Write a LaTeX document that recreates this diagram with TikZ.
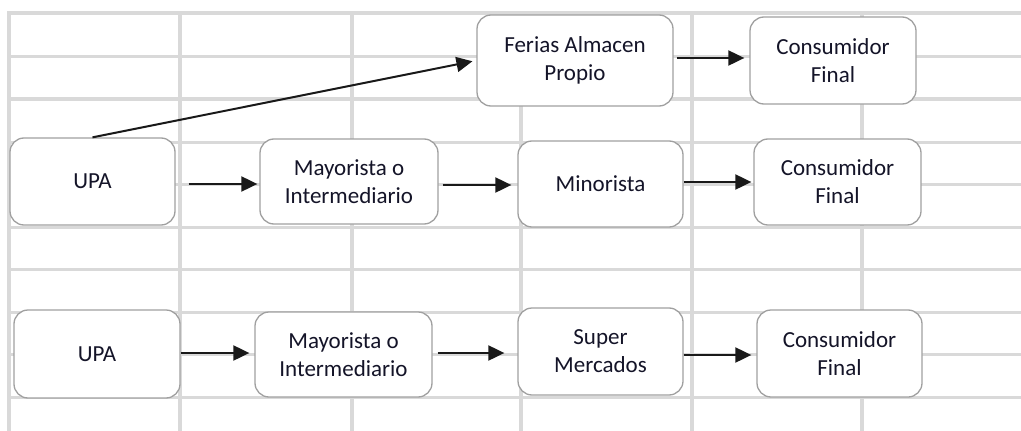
\documentclass[tikz,border=0pt]{standalone}
\usepackage{fontspec}
\setmainfont{Carlito}
\usetikzlibrary{arrows.meta}
\definecolor{gridgray}{RGB}{217,217,217}
\definecolor{boxgray}{RGB}{160,160,160}
\definecolor{txt}{RGB}{20,20,40}
\definecolor{arrowc}{RGB}{25,25,25}
\tikzset{
  box/.style={draw=boxgray, line width=1.3pt, fill=white, rounded corners=14pt,
    align=center, inner sep=2pt, text=txt, font=\fontsize{23}{28}\selectfont},
  gridline/.style={draw=gridgray, line width=3pt},
  gridthick/.style={draw=gridgray, line width=4.2pt},
  arr/.style={draw=arrowc, line width=2pt, -{Triangle[length=16pt,width=15pt]}}
}
\begin{document}
\begin{tikzpicture}[x=1pt,y=-1pt]
\useasboundingbox (0,0) rectangle (1021,431);
\fill[white] (0,0) rectangle (1021,431);
% grid
\foreach \yy in {56,142,184,227,269,312,354,397} {
  \draw[gridline] (9,\yy) -- (1021,\yy);
}
\draw[gridthick] (9,99) -- (1021,99);
\foreach \xx in {180,352,521,692,862} {
  \draw[gridthick] (\xx,13) -- (\xx,431);
}
\draw[gridthick] (9,13) -- (1021,13);
\draw[gridthick] (9,11) -- (9,431);
% boxes
\node[box, minimum width=196pt, minimum height=91pt] (ferias) at (575,60.5) {Ferias Almacen\\Propio};
\node[box, minimum width=166pt, minimum height=87pt] (cons1) at (833,60.5) {Consumidor\\Final};
\node[box, minimum width=165pt, minimum height=87pt] (upa2) at (92.5,181.5) {UPA};
\node[box, minimum width=178pt, minimum height=85pt] (may2) at (349,181.5) {Mayorista o\\Intermediario};
\node[box, minimum width=165pt, minimum height=86pt] (min2) at (600.5,184) {Minorista};
\node[box, minimum width=167pt, minimum height=86pt] (cons2) at (837.5,182) {Consumidor\\Final};
\node[box, minimum width=166pt, minimum height=88pt] (upa3) at (97,354) {UPA};
\node[box, minimum width=177pt, minimum height=85pt] (may3) at (343.5,354.5) {Mayorista o\\Intermediario};
\node[box, minimum width=165pt, minimum height=87pt] (sup3) at (600.5,351.5) {Super\\Mercados};
\node[box, minimum width=165pt, minimum height=87pt] (cons3) at (839.5,353.5) {Consumidor\\Final};
% arrows
\draw[arr, shorten >=4pt] (upa2.north) -- (ferias.west);
\draw[arr, shorten <=3pt, shorten >=5pt] (ferias.east |- 0,58) coordinate (f1) -- (f1 -| cons1.west);
\draw[arr, shorten <=13pt, shorten >=2pt] (upa2.east |- 0,184) coordinate (a1) -- (a1 -| may2.west);
\draw[arr, shorten <=4pt, shorten >=6pt] (may2.east |- 0,185) coordinate (a2) -- (a2 -| min2.west);
\draw[arr, shorten >=2pt] (min2.east |- 0,182) coordinate (a3) -- (a3 -| cons2.west);
\draw[arr, shorten >=5pt] (upa3.east |- 0,353) coordinate (b1) -- (b1 -| may3.west);
\draw[arr, shorten <=5pt, shorten >=13pt] (may3.east |- 0,353) coordinate (b2) -- (b2 -| sup3.west);
\draw[arr, shorten >=5pt] (sup3.east |- 0,355) coordinate (b3) -- (b3 -| cons3.west);
\end{tikzpicture}
\end{document}
